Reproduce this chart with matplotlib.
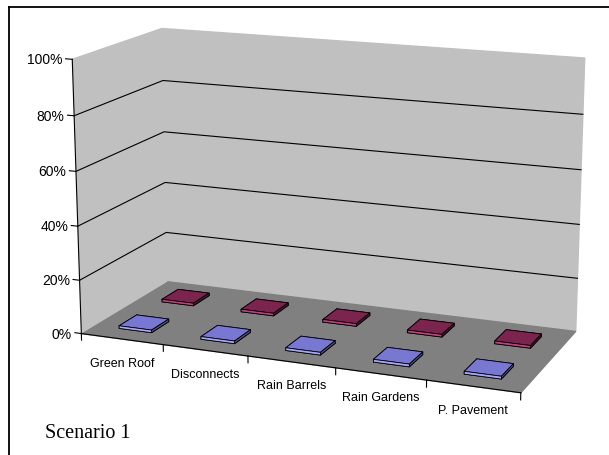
import matplotlib.pyplot as plt
import numpy as np
from matplotlib.lines import Line2D
from mpl_toolkits.mplot3d import proj3d

# chart data (fractions of total)
categories = ["Green Roof", "Disconnects", "Rain Barrels", "Rain Gardens", "P. Pavement"]
series_1 = [0.01, 0.01, 0.01, 0.01, 0.01]
series_2 = [0.01, 0.01, 0.01, 0.01, 0.01]
z_ticks = [0.0, 0.2, 0.4, 0.6, 0.8, 1.0]
z_tick_labels = ["0%", "20%", "40%", "60%", "80%", "100%"]
caption = "Scenario 1"

plt.rcParams["font.family"] = ["Liberation Sans", "DejaVu Sans"]

fig = plt.figure(figsize=(6.09, 4.56), dpi=100)
ax = fig.add_axes([0.030, 0.05, 1.0, 1.0], projection="3d")
ax.view_init(elev=14.5, azim=-68)
ax.set_proj_type("persp", focal_length=0.8)
ax.set_box_aspect((988, 415, 602), zoom=1.229)

n = len(categories)
ln = dict(color="black", lw=0.8, clip_on=False)

# walls and floor
for axis in (ax.xaxis, ax.yaxis, ax.zaxis):
    axis.line.set_color((0, 0, 0, 0))
    axis.set_ticks([])
    axis.pane.set_edgecolor("#808080")
    axis.pane.set_linewidth(1.0)
ax.xaxis.set_pane_color("#C0C0C0")
ax.yaxis.set_pane_color("#C0C0C0")
ax.zaxis.set_pane_color("#808080")
ax.grid(False)

# gridlines across side wall and back wall
for v in z_ticks[1:-1]:
    ax.plot([-0.5, -0.5, n - 0.5], [0, 2, 2], [v, v, v], **ln)

# value axis and category axis lines with tick marks
ax.plot([-0.5, -0.5], [0, 0], [0, 1], **ln)
for v in z_ticks:
    ax.plot([-0.5, -0.58], [0, 0], [v, v], **ln)
ax.plot([-0.5, n - 0.5], [0, 0], [0, 0], **ln)
for b in np.arange(n + 1) - 0.5:
    ax.plot([b, b], [0, 0], [0, -0.025], **ln)

# columns: faces are bottom, top, front, back, left, right
bar_w = 0.4
bar_d = 0.4
faces_1 = ["#9999FF", "#7878D2", "#A6A6FF", "#9999FF", "#9999FF", "#4D4D80"]
faces_2 = ["#993366", "#7A244E", "#C2407E", "#993366", "#993366", "#4D1A33"]
xs = np.arange(n) - bar_w / 2
for y_mid, vals, faces in [(0.5, series_1, faces_1), (1.5, series_2, faces_2)]:
    bars = ax.bar3d(xs, np.full(n, y_mid - bar_d / 2), np.zeros(n), bar_w, bar_d, vals,
                    color=faces * n, edgecolor="black", linewidth=0.6, shade=False)
    bars.set_clip_on(False)

# limits last, so plotting does not rescale them
ax.set_xlim(-0.5, n - 0.5)
ax.set_ylim(0, 2)
ax.set_zlim(0, 1)

# tick labels placed at the projected axis positions
M = ax.get_proj()


def to_2d(x, y, z):
    px, py, _ = proj3d.proj_transform(x, y, z, M)
    return px, py


for v, lab in zip(z_ticks, z_tick_labels):
    ax.annotate(lab, to_2d(-0.5, 0, v), xytext=(-7, 0), textcoords="offset points",
                ha="right", va="center", fontsize=10, annotation_clip=False)
for i, name in enumerate(categories):
    ax.annotate(name, to_2d(i, 0, 0), xytext=(0, -17), textcoords="offset points",
                ha="center", va="center", fontsize=9, annotation_clip=False)

# chart frame
fig.add_artist(Line2D([8.5 / 609, 8.5 / 609], [0, 1 - 7.5 / 456], color="black", lw=1.3))
fig.add_artist(Line2D([8.5 / 609, 1], [1 - 7.5 / 456, 1 - 7.5 / 456], color="black", lw=1.3))

fig.text(45 / 609, 1 - 438 / 456, caption, family="Liberation Serif", fontsize=14.5,
         va="baseline")

fig.savefig("out.png", dpi=100)
